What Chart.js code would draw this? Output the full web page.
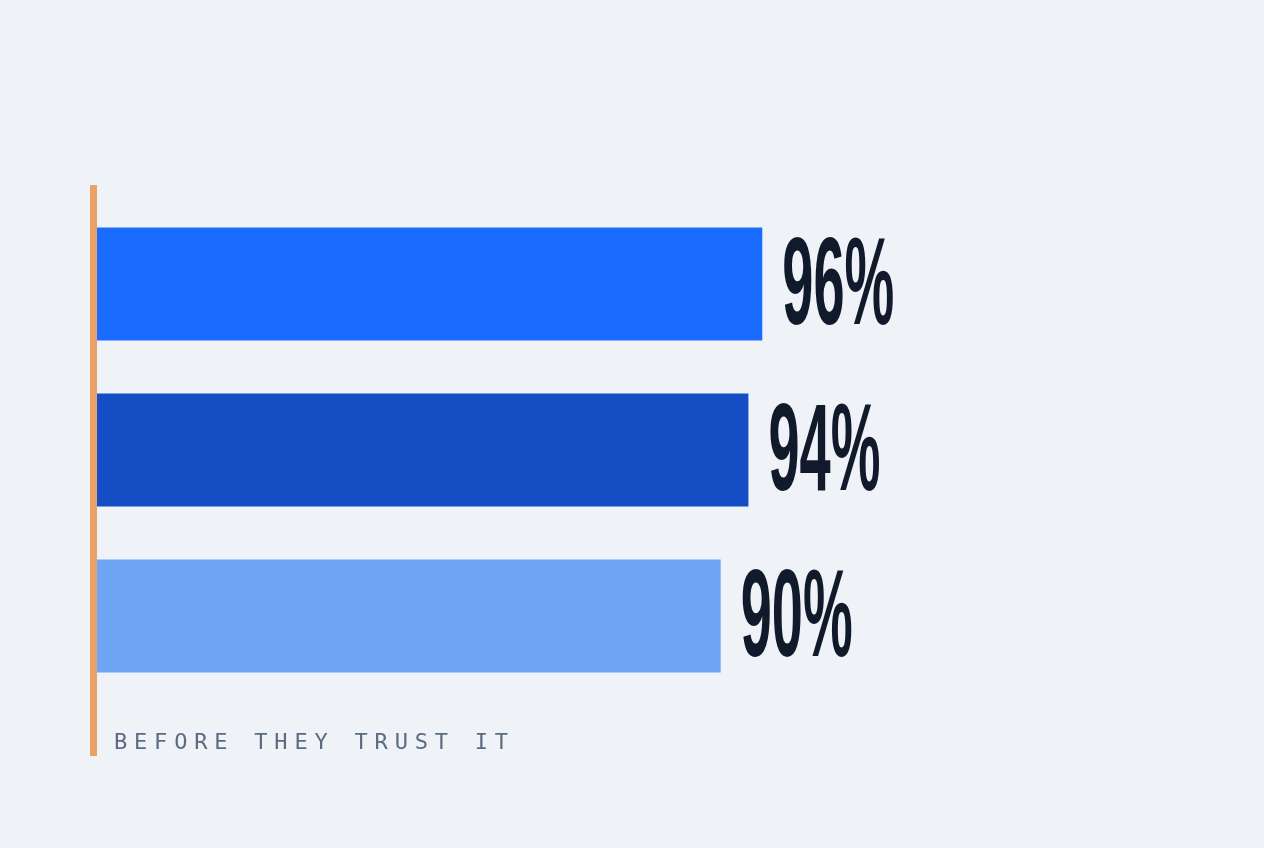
<!DOCTYPE html>
<html>
<head>
<meta charset="utf-8">
<script src="https://cdn.jsdelivr.net/npm/chart.js@4"></script>
<style>
  html, body { margin: 0; padding: 0; background: #eff2f7; }
  #wrap { position: relative; width: 1264px; height: 848px; }
  #caption {
    position: absolute; left: 114px; top: 729px;
    font-family: "DejaVu Sans Mono", monospace; font-size: 22px;
    letter-spacing: 6.8px; color: #5b6b82;
  }
</style>
</head>
<body>
<div id="wrap">
  <canvas id="chart" width="1264" height="848"></canvas>
  <div id="caption">BEFORE THEY TRUST IT</div>
</div>
<script>
// values
const categories = ["A", "B", "C"];
const values = [96, 94, 90];
const valueLabels = ["96%", "94%", "90%"];
const barColors = ["#1a6cff", "#144dc4", "#6fa5f5"];

// orange rule on the left, plus the big value labels
const decorations = {
    id: "decorations",
    afterDatasetsDraw(chart) {
        const ctx = chart.ctx;
        ctx.save();
        ctx.fillStyle = "#e8a36a";
        ctx.fillRect(90, 185, 7, 571);

        const meta = chart.getDatasetMeta(0);
        ctx.fillStyle = "#111a2b";
        ctx.textBaseline = "middle";
        meta.data.forEach((bar, i) => {
            ctx.save();
            ctx.translate(bar.x + 20, bar.y + 6);
            ctx.scale(0.56, 1.25);
            ctx.font = "bold 100px 'Liberation Sans Narrow', 'Liberation Sans', sans-serif";
            ctx.fillText(valueLabels[i], 0, 0);
            ctx.restore();
        });
        ctx.restore();
    }
};

new Chart(document.getElementById("chart").getContext("2d"), {
    type: "bar",
    data: {
        labels: categories,
        datasets: [{
            data: values,
            backgroundColor: barColors,
            borderWidth: 0,
            categoryPercentage: 1.0,
            barPercentage: 0.68,
        }],
    },
    options: {
        indexAxis: "y",
        responsive: false,
        animation: false,
        layout: { padding: { left: 97, right: 474, top: 201, bottom: 149 } },
        plugins: { legend: { display: false }, tooltip: { enabled: false } },
        scales: {
            x: { display: false, min: 0, max: 100 },
            y: { display: false },
        },
    },
    plugins: [decorations],
});
</script>
</body>
</html>
